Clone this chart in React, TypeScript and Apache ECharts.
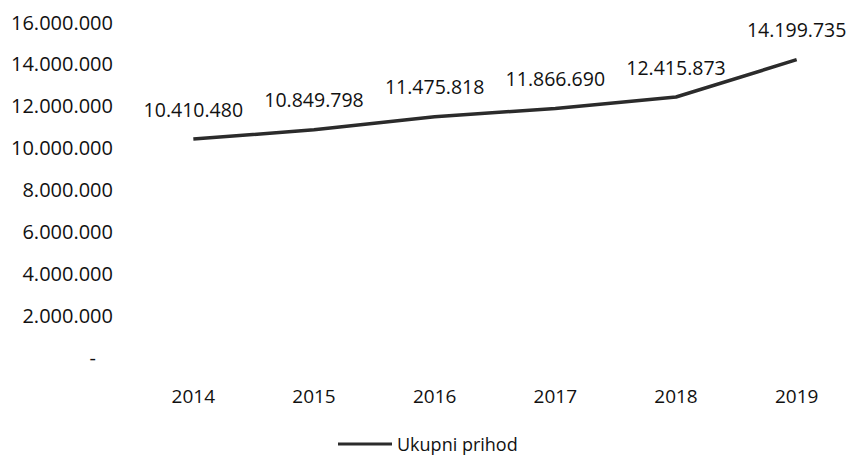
import React, { useEffect, useRef } from "react";
import * as echarts from "echarts";

const years = ["2014", "2015", "2016", "2017", "2018", "2019"];
const ukupniPrihod = [10410480, 10849798, 11475818, 11866690, 12415873, 14199735];
const seriesName = "Ukupni prihod";
const yMax = 16000000;
const yInterval = 2000000;

const FONT = "'Open Sans', 'Noto Sans', sans-serif";
const TXT = "#111111";
const W = 500;

function fmt(v: number): string {
  if (v === 0) return "-";
  return String(Math.round(v)).replace(/\B(?=(\d{3})+(?!\d))/g, ".");
}

export default function App() {
  const ref = useRef<HTMLDivElement>(null);
  useEffect(() => {
    document.body.style.margin = "0";
    if (!ref.current) return;
    const chart = echarts.init(ref.current, null, { renderer: "svg" });
    chart.setOption({
      animation: false,
      backgroundColor: "#ffffff",
      textStyle: { fontFamily: FONT },
      grid: { left: 133, right: 4, top: 22, bottom: 100, containLabel: false },
      legend: {
        data: [{ name: seriesName, icon: "rect" }],
        left: 333,
        top: 430,
        itemWidth: 54,
        itemHeight: 3,
        itemGap: 6,
        textStyle: { fontFamily: FONT, fontSize: 18, color: TXT, fontWeight: W },
      },
      xAxis: {
        type: "category",
        data: years,
        boundaryGap: true,
        axisLine: { show: false },
        axisTick: { show: false },
        axisLabel: { margin: 29, fontSize: 19, color: TXT, fontFamily: FONT, fontWeight: W },
        splitLine: { show: false },
      },
      yAxis: {
        type: "value",
        min: 0,
        max: yMax,
        interval: yInterval,
        axisLine: { show: false },
        axisTick: { show: false },
        splitLine: { show: false },
        axisLabel: {
          margin: 20,
          fontSize: 20,
          color: TXT,
          fontFamily: FONT,
          fontWeight: W,
          formatter: (v: number) => (v === 0 ? "{d|-}" : fmt(v)),
          rich: { d: { fontSize: 20, color: TXT, fontFamily: FONT, fontWeight: W, padding: [0, 17, 0, 0] } },
        },
      },
      series: [
        {
          name: seriesName,
          type: "line",
          data: ukupniPrihod,
          symbol: "circle",
          symbolSize: 0.01,
          showSymbol: true,
          lineStyle: { color: "#2b2b2b", width: 3.5 },
          itemStyle: { color: "#2b2b2b" },
          label: {
            show: true,
            position: "top",
            distance: 20,
            fontSize: 19.5,
            color: TXT,
            fontFamily: FONT,
            fontWeight: W,
            formatter: (p: any) => fmt(p.value),
          },
        },
      ],
    });
    return () => chart.dispose();
  }, []);
  return <div ref={ref} style={{ width: 861, height: 457 }} />;
}
